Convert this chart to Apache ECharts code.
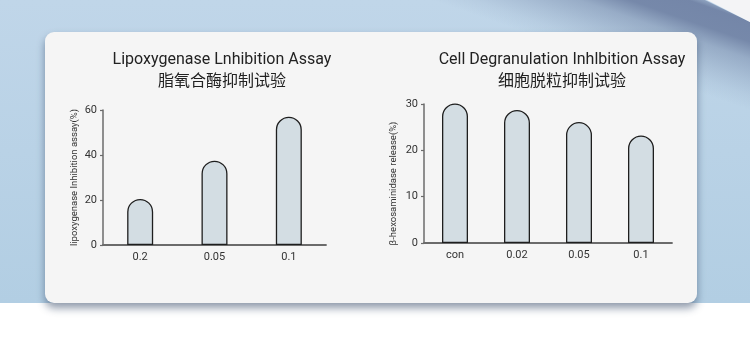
<!DOCTYPE html>
<html>
<head>
<meta charset="utf-8">
<script src="https://cdn.jsdelivr.net/npm/echarts@6/dist/echarts.min.js"></script>
<style>
  html, body { margin: 0; padding: 0; background: #fff; }
  #chart { width: 750px; height: 351px; }
</style>
</head>
<body>
<div id="chart"></div>
<script>
// 脂氧合酶抑制试验
const lipoCategories = ['0.2', '0.05', '0.1']
const lipoValues = [20.5, 37.5, 57]
const lipoTicks = [0, 20, 40, 60]

// 细胞脱粒抑制试验
const cellCategories = ['con', '0.02', '0.05', '0.1']
const cellValues = [30.1, 28.7, 26.1, 23.2]
const cellTicks = [0, 10, 20, 30]

const FONT = 'Roboto, "Noto Sans CJK SC", sans-serif'

const chart = echarts.init(document.getElementById('chart'))

const barStyle = {
  color: '#d3dde3',
  borderColor: '#1e1e1e',
  borderWidth: 1.3,
  borderRadius: [13, 13, 0, 0]
}

const makeYAxis = (gridIndex, ticks, name, nameGap, namePad) => ({
  type: 'value',
  gridIndex: gridIndex,
  min: ticks[0],
  max: ticks[ticks.length - 1],
  interval: ticks[1] - ticks[0],
  name: name,
  nameLocation: 'middle',
  nameGap: nameGap,
  nameTextStyle: { fontSize: 9.5, color: '#333', fontFamily: FONT, padding: namePad },
  axisLine: { show: true, lineStyle: { color: '#6b6b6b', width: 1.5 } },
  axisTick: { show: true, length: 3, lineStyle: { color: '#6b6b6b', width: 1.2 } },
  axisLabel: { fontSize: 11, color: '#333', margin: 6, fontFamily: FONT },
  splitLine: { show: false }
})

const makeXAxis = (gridIndex, cats) => ({
  type: 'category',
  gridIndex: gridIndex,
  data: cats,
  axisLine: { lineStyle: { color: '#6b6b6b', width: 1.8 } },
  axisTick: { show: false },
  axisLabel: { fontSize: 11, color: '#333', margin: 7, fontFamily: FONT }
})

const option = {
  animation: false,
  backgroundColor: '#ffffff',
  graphic: [
    // 背景
    {
      type: 'rect', z: -10, silent: true,
      shape: { x: 0, y: 0, width: 750, height: 303 },
      style: {
        fill: new echarts.graphic.LinearGradient(0, 0, 0, 1, [
          { offset: 0, color: '#c0d6e9' },
          { offset: 1, color: '#b2cee3' }
        ])
      }
    },
    // 右上角深色带
    {
      type: 'polygon', z: -9, silent: true,
      shape: { points: [[380, 0], [705, 0], [750, 22], [750, 140]] },
      style: {
        fill: new echarts.graphic.LinearGradient(660, 130, 705, 0, [
          { offset: 0.35, color: 'rgba(112,131,165,0)' },
          { offset: 0.45, color: 'rgba(112,131,165,0.1)' },
          { offset: 0.55, color: 'rgba(112,131,165,0.25)' },
          { offset: 0.7, color: 'rgba(112,131,165,0.5)' },
          { offset: 0.82, color: 'rgba(110,128,163,0.9)' },
          { offset: 0.96, color: 'rgba(112,130,165,0.95)' },
          { offset: 1, color: 'rgba(135,155,185,0.85)' }
        ], true)
      }
    },
    {
      type: 'polygon', z: -8, silent: true,
      shape: { points: [[707, 0], [750, 0], [750, 22]] },
      style: { fill: '#f4f4f6' }
    },
    // 卡片
    {
      type: 'rect', z: -5, silent: true,
      shape: { x: 45, y: 32, width: 652, height: 271, r: 9 },
      style: {
        fill: '#f5f5f5',
        shadowBlur: 8,
        shadowOffsetY: 5,
        shadowColor: 'rgba(50,70,100,0.55)'
      }
    }
  ],
  title: [
    {
      text: 'Lipoxygenase Lnhibition Assay\n脂氧合酶抑制试验',
      left: 217, top: 44, textAlign: 'center',
      textStyle: { fontSize: 16, lineHeight: 22, fontWeight: 'normal', color: '#222', fontFamily: FONT }
    },
    {
      text: 'Cell Degranulation Inhlbition Assay\n细胞脱粒抑制试验',
      left: 557, top: 44, textAlign: 'center',
      textStyle: { fontSize: 16, lineHeight: 22, fontWeight: 'normal', color: '#222', fontFamily: FONT }
    }
  ],
  grid: [
    { left: 103, top: 110, width: 223, height: 135 },
    { left: 424, top: 104, width: 248, height: 139 }
  ],
  xAxis: [
    makeXAxis(0, lipoCategories),
    makeXAxis(1, cellCategories)
  ],
  yAxis: [
    makeYAxis(0, lipoTicks, 'lipoxygenase Inhibition assay(%)', 24, [0, 0, 0, 0]),
    makeYAxis(1, cellTicks, 'β-hexosaminidase release(%)', 26, [0, 20, 0, 0])
  ],
  series: [
    {
      type: 'bar', xAxisIndex: 0, yAxisIndex: 0,
      data: lipoValues, barWidth: 26, itemStyle: barStyle
    },
    {
      type: 'bar', xAxisIndex: 1, yAxisIndex: 1,
      data: cellValues, barWidth: 26, itemStyle: barStyle
    }
  ]
}

chart.setOption(option)
</script>
</body>
</html>
